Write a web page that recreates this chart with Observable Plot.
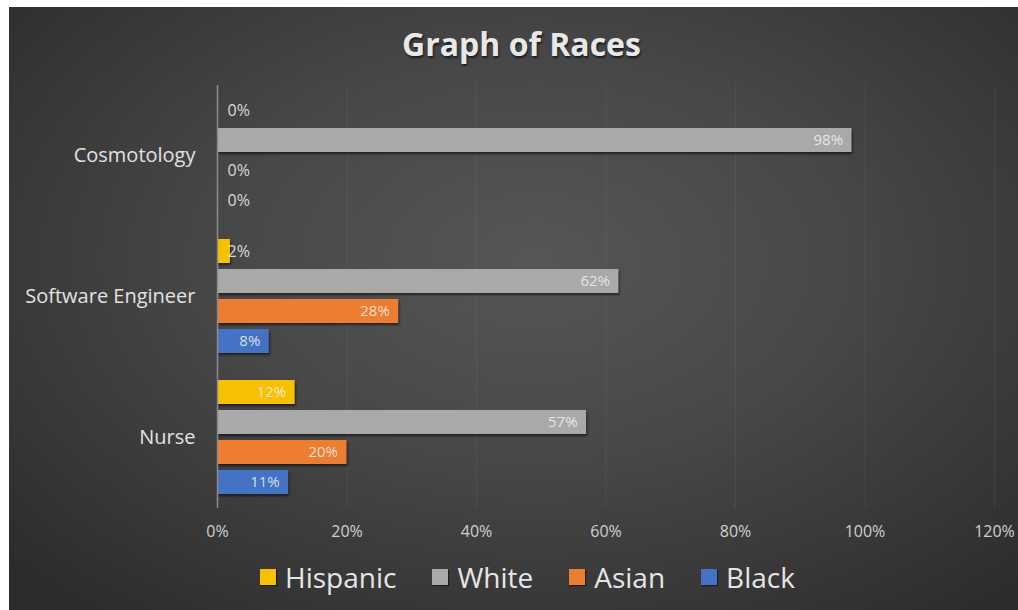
<!DOCTYPE html>
<html>
<head>
<meta charset="utf-8">
<script src="https://cdn.jsdelivr.net/npm/d3@7"></script>
<script src="https://cdn.jsdelivr.net/npm/@observablehq/plot@0.6"></script>
<style>
  html, body { margin: 0; padding: 0; background: #ffffff; }
  #frame {
    position: absolute; left: 9px; top: 7px; width: 1009px; height: 603px;
    background: radial-gradient(ellipse 70% 75% at 52% 42%, #565656 0%, #474747 45%, #363636 80%, #2c2c2c 100%);
    overflow: hidden; font-family: "Open Sans", Lato, sans-serif;
  }
  #title {
    position: absolute; left: 8px; top: 15px; width: 1009px; text-align: center;
    font-size: 32px; font-weight: bold; color: #e8e8e8;
    text-shadow: 1px 2px 2px rgba(0,0,0,0.6);
  }
  #chart { position: absolute; left: 0; top: 63px; }
  #legend {
    position: absolute; left: 251px; top: 551px; display: flex; align-items: center;
    font-size: 28px; color: #e6e6e6;
  }
  .item { display: flex; align-items: center; margin-right: 36px; }
  .sw { width: 16px; height: 16px; margin-right: 9px; box-shadow: 1px 1px 1px rgba(0,0,0,0.5); }
  #chart g[aria-label="bar"] rect { filter: drop-shadow(1px 2px 1px rgba(0,0,0,0.55)); }
</style>
</head>
<body>
<div id="frame">
  <div id="title">Graph of Races</div>
  <div id="chart"></div>
  <div id="legend"></div>
</div>
<script>
const categories = ["Cosmotology", "Software Engineer", "Nurse"];
const races = ["Hispanic", "White", "Asian", "Black"];
const colors = ["#f7c000", "#a9a9a9", "#ed7d31", "#4472c4"];
const hispanic = [0, 2, 12];
const white = [98, 62, 57];
const asian = [0, 28, 20];
const black = [0, 8, 11];
const xTicks = [0, 0.2, 0.4, 0.6, 0.8, 1.0, 1.2];

const series = { Hispanic: hispanic, White: white, Asian: asian, Black: black };
const data = [];
categories.forEach((c, i) => {
  races.forEach(r => data.push({ category: c, race: r, value: series[r][i], x: series[r][i] / 100 }));
});

const chart = Plot.plot({
  width: 1009,
  height: 478,
  marginTop: 15,
  marginBottom: 40,
  marginLeft: 208,
  marginRight: 24,
  style: { background: "transparent", color: "#d9d9d9", fontFamily: "'Open Sans', Lato, sans-serif", fontSize: "12px" },
  x: { domain: [0, 1.2] },
  fy: { domain: categories, padding: 0 },
  y: { domain: races, paddingInner: 0.19, paddingOuter: 0.39 },
  color: { domain: races, range: colors },
  marks: [
    Plot.gridX(xTicks, { stroke: "#ffffff", strokeOpacity: 0.06 }),
    Plot.axisX({ ticks: xTicks, tickFormat: d => Math.round(d * 100) + "%", tickSize: 0, tickPadding: 17, label: null, fill: "#d0d0d0", fontSize: 16 }),
    Plot.axisFy({ anchor: "left", tickSize: 0, tickPadding: 22, label: null, fontSize: 20, fill: "#e2e2e2" }),
    Plot.axisY({ ticks: [], label: null }),
    Plot.barX(data, { x: "x", y: "race", fy: "category", fill: "race" }),
    Plot.ruleX([0], { stroke: "#8c8c8c", strokeWidth: 1.5 }),
    Plot.text(data.filter(d => d.value >= 5), {
      x: "x", y: "race", fy: "category", text: d => d.value + "%",
      textAnchor: "end", dx: -9, fill: "#f2f2f2", fillOpacity: 0.85, fontSize: 15
    }),
    Plot.text(data.filter(d => d.value < 5), {
      x: d => 0, y: "race", fy: "category", text: d => d.value + "%",
      textAnchor: "start", dx: 10, fill: "#d9d9d9", fontSize: 16
    })
  ]
});
document.getElementById("chart").appendChild(chart);

const legend = document.getElementById("legend");
races.forEach((r, i) => {
  const item = document.createElement("div");
  item.className = "item";
  const sw = document.createElement("div");
  sw.className = "sw";
  sw.style.background = colors[i];
  const label = document.createElement("span");
  label.textContent = r;
  item.appendChild(sw);
  item.appendChild(label);
  legend.appendChild(item);
});
</script>
</body>
</html>
